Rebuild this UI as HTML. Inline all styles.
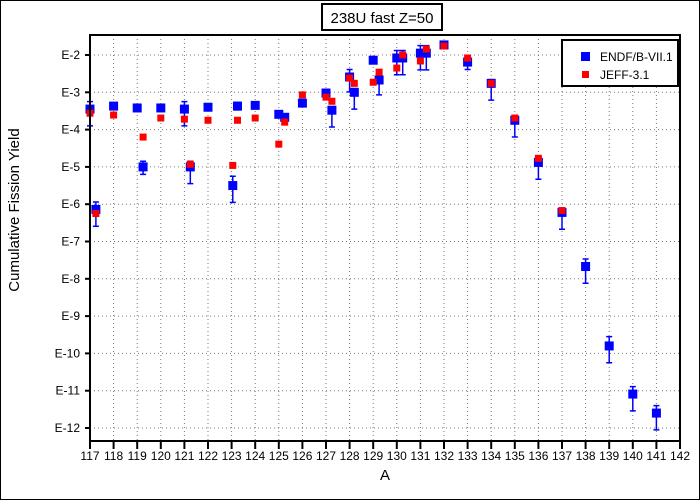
<!DOCTYPE html>
<html><head><meta charset="utf-8"><style>
html,body{margin:0;padding:0;background:#fff;}
svg{display:block;font-family:"Liberation Sans",sans-serif;}
</style></head><body>
<svg id="chart" width="700" height="500" viewBox="0 0 700 500">
<rect x="0.5" y="0.5" width="699" height="499" fill="#fff" stroke="#000"/>
<g id="grid"></g>
<g id="marks"></g>
<g id="axes"></g>
<rect x="322" y="4" width="120" height="26" fill="#fff" stroke="#000" stroke-width="2"/>
<text x="382" y="23" text-anchor="middle" font-size="15">238U fast Z=50</text>
<text x="385" y="480" text-anchor="middle" font-size="15">A</text>
<text transform="translate(19,210) rotate(-90)" text-anchor="middle" font-size="15">Cumulative Fission Yield</text>
<g>
<rect x="562" y="40" width="116" height="46" fill="#fff" stroke="#000" stroke-width="2"/>
<rect x="581" y="52" width="9" height="9" fill="#0000ff"/>
<text x="600" y="61" font-size="12">ENDF/B-VII.1</text>
<rect x="582" y="71" width="7" height="7" fill="#ff0000"/>
<text x="600" y="79" font-size="12">JEFF-3.1</text>
</g>
</svg>
<script>
const xTicks=[117,118,119,120,121,122,123,124,125,126,127,128,129,130,131,132,133,134,135,136,137,138,139,140,141,142];
const yTicks=[-2,-3,-4,-5,-6,-7,-8,-9,-10,-11,-12];
const yTickLabels=["E-2","E-3","E-4","E-5","E-6","E-7","E-8","E-9","E-10","E-11","E-12"];
const endfA=[117,117.25,118,119,119.25,120,121,121.25,122,123.05,123.25,124,125,125.25,126,127,127.25,128,128.2,129,129.25,130,130.25,131,131.25,132,133,134,135,136,137,138,139,140,141];
const endfLog=[-3.45,-6.14,-3.37,-3.42,-5.0,-3.42,-3.45,-5.0,-3.4,-5.5,-3.37,-3.35,-3.59,-3.67,-3.29,-3.02,-3.48,-2.59,-3.0,-2.14,-2.67,-2.08,-2.08,-1.95,-1.95,-1.73,-2.19,-2.76,-3.75,-4.88,-6.22,-7.67,-9.8,-11.09,-11.6];
const endfErrUp=[0.2,0.2,0,0,0.15,0,0.2,0.15,0,0.25,0.1,0,0,0,0,0.1,0,0.2,0.1,0,0,0.2,0.2,0.2,0.2,0,0.05,0.1,0.1,0.1,0.1,0.2,0.25,0.2,0.2];
const endfErrDn=[0.45,0.45,0,0,0.2,0,0.45,0.45,0,0.45,0.1,0,0,0,0,0.1,0.45,0.4,0.45,0,0.4,0.45,0.45,0.45,0.45,0,0.2,0.45,0.45,0.45,0.45,0.45,0.45,0.45,0.45];
const jeffA=[117,117.25,118,119.25,120,121,121.25,122,123.05,123.25,124,125,125.25,126,127,127.25,128,128.2,129,129.25,130,130.25,131,131.25,132,133,134,135,136,137];
const jeffLog=[-3.56,-6.25,-3.61,-4.2,-3.69,-3.72,-4.93,-3.75,-4.96,-3.75,-3.69,-4.39,-3.8,-3.07,-3.13,-3.24,-2.62,-2.76,-2.73,-2.46,-2.35,-2.0,-2.16,-1.84,-1.76,-2.08,-2.76,-3.69,-4.77,-6.17];
const X0=90,X1=680,Y0=35,Y1=441;
function xs(a){return X0+(a-117)/(142-117)*(X1-X0);}
function ys(l){return 55+(-2-l)*37.3;}
const NS="http://www.w3.org/2000/svg";
function mk(tag,attrs,parent){const e=document.createElementNS(NS,tag);for(const k in attrs)e.setAttribute(k,attrs[k]);parent.appendChild(e);return e;}
const grid=document.getElementById('grid'),marks=document.getElementById('marks'),axes=document.getElementById('axes');
xTicks.forEach((t,i)=>{const x=xs(t);
 if(i>0&&i<xTicks.length-1){const g=mk('line',{x1:x,y1:Y0,x2:x,y2:Y1,stroke:'#777','stroke-dasharray':'1,3'},grid);
 
 }
 const tk=mk('line',{x1:x,y1:Y1,x2:x,y2:Y1+8,stroke:'#000','stroke-width':2},axes);
 
 
 const tl=mk('text',{x:x,y:Y1+19,'text-anchor':'middle','font-size':12},axes);tl.textContent=t;
 
 
});
yTicks.forEach((t,i)=>{const y=ys(t);
 const g=mk('line',{x1:X0,y1:y,x2:X1,y2:y,stroke:'#777','stroke-dasharray':'1,3'},grid);
 
 
 const tk=mk('line',{x1:X0-5,y1:y,x2:X0,y2:y,stroke:'#000','stroke-width':2},axes);
 
 
 const tl=mk('text',{x:X0-10,y:y+4,'text-anchor':'end','font-size':12},axes);tl.textContent=yTickLabels[i];
 
 
});
const fr=mk('rect',{x:X0,y:Y0,width:X1-X0,height:Y1-Y0,fill:'none',stroke:'#000','stroke-width':2},axes);


endfA.forEach((a,i)=>{const x=xs(a),y=ys(endfLog[i]);
 if(endfErrUp[i]>0||endfErrDn[i]>0){const yu=ys(endfLog[i]+endfErrUp[i]),yd=ys(endfLog[i]-endfErrDn[i]);
  const e=mk('path',{d:`M${x},${yu}V${yd}M${x-3},${yu}h6M${x-3},${yd}h6`,stroke:'#0000ff','stroke-width':1.5,fill:'none'},marks);
  
  }
 const r=mk('rect',{x:x-4.5,y:y-4.5,width:9,height:9,fill:'#0000ff'},marks);
 
 
});
jeffA.forEach((a,i)=>{const x=xs(a),y=ys(jeffLog[i]);
 const r=mk('rect',{x:x-3.5,y:y-3.5,width:7,height:7,fill:'#ff0000'},marks);
 
 
});
</script>
</body></html>
